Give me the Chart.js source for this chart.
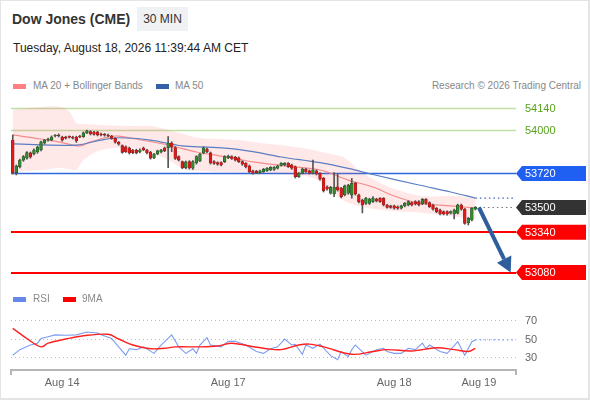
<!DOCTYPE html>
<html><head><meta charset="utf-8">
<script src="https://cdn.jsdelivr.net/npm/chart.js@4.4.1/dist/chart.umd.min.js"></script>
<style>
html,body{margin:0;padding:0;background:#fff;}
body{width:590px;height:400px;position:relative;overflow:hidden;font-family:"Liberation Sans",Arial,sans-serif;}
#frame{position:absolute;left:0;top:0;width:587px;height:397px;border:1px solid #e4e4e4;border-right-width:2px;border-bottom-width:2px;}
#title{position:absolute;left:12px;top:11px;font-size:14px;font-weight:bold;color:#333;}
#tf{position:absolute;left:137px;top:7px;width:51px;height:24px;line-height:24px;text-align:center;background:#f0f1f3;font-size:12px;color:#333;}
#date{position:absolute;left:13px;top:41px;font-size:12px;color:#222;}
.leg{position:absolute;font-size:10px;color:#888;line-height:12px;}
.sw{position:absolute;width:13px;height:5px;}
#cv{position:absolute;left:0;top:95px;}
</style></head>
<body>
<div id="frame"></div>
<div id="title">Dow Jones (CME)</div>
<div id="tf">30 MIN</div>
<div id="date">Tuesday, August 18, 2026 11:39:44 AM CET</div>
<div class="sw" style="left:13px;top:84px;background:#ff8080"></div>
<div class="leg" style="left:33px;top:80px">MA 20 + Bollinger Bands</div>
<div class="sw" style="left:156px;top:84px;background:#3460a8"></div>
<div class="leg" style="left:175px;top:80px">MA 50</div>
<div class="leg" style="right:9px;top:80px">Research © 2026 Trading Central</div>
<canvas id="cv" width="590" height="300"></canvas>
<div class="sw" style="left:13px;top:297px;background:#6688e8"></div>
<div class="leg" style="left:33px;top:293px">RSI</div>
<div class="sw" style="left:63px;top:297px;background:#ff0000"></div>
<div class="leg" style="left:82px;top:293px">9MA</div>
<script>
// ---- data ----
const slotCount = 143;
const tickIdx = [14, 61, 108, 132];
const tickText = ['Aug 14', 'Aug 17', 'Aug 18', 'Aug 19'];

const openP = [53935,53725,53763,53806,53819,53852,53845,53858,53871,53916,53935,53935,53961,53968,53955,53955,53957,53955,53955,53961,
53957,53981,53989,53987,53987,53974,53972,53968,53961,53946,53921,53899,53892,53884,53871,53871,53858,53884,53871,53858,
53821,53845,53858,53884,53886,53916,53886,53828,53796,53757,53796,53753,53787,53800,53852,53877,53852,53796,53789,53789,
53796,53821,53828,53824,53821,53796,53785,53768,53737,53735,53725,53731,53737,53742,53746,53753,53772,53774,53785,53774,
53763,53699,53721,53746,53737,53721,53737,53721,53688,53634,53592,53587,53634,53624,53581,53592,53581,53656,53581,53548,
53527,53527,53538,53555,53559,53559,53516,53510,53510,53505,53495,53510,53516,53531,53538,53538,53523,53553,53531,53516,
53495,53484,53473,53473,53463,53458,53463,53516,53489,53402,53420,53489];
const closeP = [53723,53768,53806,53828,53854,53826,53871,53890,53923,53935,53942,53955,53963,53961,53935,53948,53953,53948,53931,53955,
53981,53994,53974,53972,53968,53968,53966,53961,53946,53921,53908,53856,53860,53852,53854,53852,53871,53871,53852,53819,
53845,53865,53871,53865,53916,53890,53817,53806,53757,53794,53755,53796,53828,53845,53884,53860,53787,53785,53779,53774,
53828,53832,53817,53806,53796,53779,53763,53731,53721,53725,53737,53746,53753,53759,53759,53768,53785,53785,53763,53753,
53699,53721,53748,53731,53721,53742,53716,53682,53608,53618,53630,53630,53613,53570,53639,53645,53656,53587,53538,53516,
53559,53555,53559,53542,53538,53516,53501,53501,53495,53495,53510,53527,53538,53516,53523,53516,53553,53527,53505,53489,
53473,53458,53458,53458,53473,53484,53516,53489,53398,53430,53495,53501];
const highP = [53968,53774,53812,53835,53860,53858,53878,53896,53928,53940,53948,53962,53970,53975,53960,53960,53962,53960,53960,53966,
53987,54000,53995,53992,53992,53980,53978,53974,53966,53950,53926,53904,53898,53890,53876,53876,53878,53890,53876,53862,
53850,53870,53876,53890,53957,53924,53892,53834,53800,53800,53802,53802,53834,53850,53892,53884,53858,53802,53795,53795,
53834,53838,53834,53830,53826,53802,53790,53774,53742,53740,53742,53752,53758,53764,53764,53774,53790,53790,53790,53780,
53768,53726,53754,53752,53742,53806,53742,53726,53694,53640,53636,53725,53716,53630,53645,53650,53688,53662,53586,53554,
53565,53560,53570,53560,53564,53564,53520,53515,53515,53510,53515,53532,53544,53536,53544,53544,53558,53558,53536,53522,
53500,53490,53478,53478,53478,53490,53522,53522,53494,53436,53500,53506];
const lowP = [53716,53710,53755,53798,53812,53818,53840,53850,53865,53910,53928,53930,53955,53955,53928,53942,53948,53942,53920,53950,
53952,53976,53968,53966,53962,53962,53960,53955,53940,53915,53902,53850,53855,53845,53848,53846,53852,53866,53846,53812,
53815,53840,53852,53860,53757,53860,53810,53800,53750,53750,53748,53746,53780,53795,53846,53854,53780,53778,53772,53768,
53790,53815,53810,53800,53790,53772,53756,53724,53715,53718,53720,53726,53732,53737,53740,53748,53766,53768,53758,53746,
53690,53694,53716,53726,53716,53716,53710,53676,53600,53612,53586,53570,53606,53562,53575,53586,53560,53580,53530,53465,
53520,53520,53532,53536,53532,53510,53495,53495,53490,53488,53490,53504,53510,53510,53516,53510,53518,53520,53500,53482,
53466,53452,53452,53450,53458,53426,53458,53482,53392,53387,53414,53484];

const ma20Idx = [0,8,13,19,22,27,30,34,44,52,57,63,68,76,87,95,102,108,115,124,131];
const ma20Val = [53968,53942,53923,53897,53923,53955,53961,53945,53903,53858,53839,53816,53794,53771,53742,53677,53632,53574,53529,53510,53497];
const ma50Idx = [0,18,25,30,39,48,55,61,68,76,87,95,102,115,124,131];
const ma50Val = [53910,53903,53935,53950,53935,53897,53890,53882,53860,53826,53789,53752,53713,53645,53600,53561];
const bandIdx = [0,8,13,16,18,20,25,33,39,44,49,53,58,64,70,78,85,90,94,98,104,109,116,125,131];
const upperVal = [54130,54148,54150,54120,54045,54038,54032,54026,54026,54000,53970,53948,53942,53935,53916,53897,53871,53845,53819,53742,53658,53613,53574,53574,53561];
const lowerVal = [53729,53742,53755,53748,53742,53806,53871,53884,53858,53806,53742,53735,53729,53725,53722,53714,53690,53613,53540,53510,53485,53475,53465,53440,53425];

const rsiIdx = [0,2,5,7,8,10,12,15,18,21,24,25,28,30,32,33,35,37,40,42,45,47,49,51,52,53,55,56,59,61,63,66,69,71,73,75,77,79,80,82,83,85,87,90,92,93,95,96,97,100,103,105,106,108,110,112,114,116,117,118,121,123,124,126,128,130,131];
const rsiVal = [33,39,44,46,51,53,55,54.5,55,58,57,55,51,42,33,40,39,42,35,44,55,42,35,40,35,44,52,44,42,48,48,44,37,35,40,42,50.5,44,44.8,34,44,40.5,45,32.5,28,37,31.5,39,44,33,39,40.5,37,35,35,40.5,39,46,40,44,37,35,39,47.6,33,47.6,49.5];
const ma9Idx = [0,4,8,10,15,20,27,30,34,39,43,46,53,58,62,67,72,76,81,84,88,96,102,106,113,120,125,129,131];
const ma9Val = [62,51,42,46,50.5,54,55.6,50.5,44,40,40.5,42,42,43,46,43,40,39,44,45,42,34,37,39,37.6,41,39,37,40.5];
const rsiTicks = [30, 50, 70];

const resistLevels = [54140, 54000];
const pivotLevels = [53720];
const lastPrice = 53500;
const supportLevels = [53340, 53080];
const ma50Last = 53561;
const rsiLast = 49.5;
const extFrom = 131, extTo = 142;
const arrowFrom = [132, 53500];
const arrowTo = [141, 53080];

// ---- build ----
const slots = Array.from({length: slotCount}, (_, i) => i);
const pts = (idx, vals) => idx.map((k, j) => ({x: k, y: vals[j]}));
const up = closeP.map((c, i) => c >= openP[i]);
const FONT = '"Liberation Sans", Arial, sans-serif';
Chart.defaults.font.family = FONT;

const overlay = {
  id: 'overlay',
  beforeDatasetsDraw(chart) {
    const {ctx, chartArea: a} = chart; const y = chart.scales.price;
    ctx.save();
    const line = (p, color, w) => {
      const py = Math.round(y.getPixelForValue(p)) + (w % 2 ? 0.5 : 0);
      ctx.strokeStyle = color; ctx.lineWidth = w;
      ctx.beginPath(); ctx.moveTo(a.left, py); ctx.lineTo(a.right, py); ctx.stroke();
    };
    resistLevels.forEach(p => line(p, '#c2e0a6', 1.5));
    pivotLevels.forEach(p => line(p, '#2f68dc', 1.5));
    supportLevels.forEach(p => line(p, '#ff0000', 2));
    ctx.restore();
  },
  afterDraw(chart) {
    const {ctx, chartArea: a} = chart; const y = chart.scales.price, x = chart.scales.x;
    ctx.save();
    ctx.font = '11px ' + FONT; ctx.textBaseline = 'middle'; ctx.textAlign = 'left';
    const x0 = a.right;
    const tag = (p, bg) => {
      const py = y.getPixelForValue(p), h = 15;
      ctx.fillStyle = bg; ctx.beginPath();
      ctx.moveTo(x0, py); ctx.lineTo(x0 + 6, py - h / 2); ctx.lineTo(x0 + 70, py - h / 2);
      ctx.lineTo(x0 + 70, py + h / 2); ctx.lineTo(x0 + 6, py + h / 2); ctx.closePath(); ctx.fill();
      ctx.fillStyle = '#fff'; ctx.fillText(String(p), x0 + 9, py + 0.5);
    };
    resistLevels.forEach(p => { ctx.fillStyle = '#58a31e'; ctx.fillText(String(p), x0 + 9, y.getPixelForValue(p) + 0.5); });
    pivotLevels.forEach(p => tag(p, '#1f60f2'));
    tag(lastPrice, '#333333');
    supportLevels.forEach(p => tag(p, '#ff0000'));
    // arrow
    const x1 = x.getPixelForValue(arrowFrom[0]), y1 = y.getPixelForValue(arrowFrom[1]);
    const x2 = x.getPixelForValue(arrowTo[0]), y2 = y.getPixelForValue(arrowTo[1]);
    const ang = Math.atan2(y2 - y1, x2 - x1), c = Math.cos(ang), s = Math.sin(ang);
    const hl = 15, hw = 8;
    const bx = x2 - hl * c, by = y2 - hl * s;
    ctx.strokeStyle = '#2e5e9c'; ctx.fillStyle = '#2e5e9c'; ctx.lineWidth = 4; ctx.lineCap = 'butt';
    ctx.beginPath(); ctx.moveTo(x1, y1); ctx.lineTo(bx, by); ctx.stroke();
    ctx.beginPath(); ctx.moveTo(x2, y2); ctx.lineTo(bx - hw * s, by + hw * c); ctx.lineTo(bx + hw * s, by - hw * c); ctx.closePath(); ctx.fill();
    // axis end ticks
    ctx.strokeStyle = '#b5b5b5'; ctx.lineWidth = 2;
    ctx.beginPath();
    ctx.moveTo(a.left, a.bottom); ctx.lineTo(a.left, a.bottom + 5);
    ctx.moveTo(a.right, a.bottom); ctx.lineTo(a.right, a.bottom + 5);
    ctx.stroke();
    ctx.restore();
  }
};

new Chart(document.getElementById('cv'), {
  type: 'bar',
  data: {
    labels: slots,
    datasets: [
      {type: 'line', label: 'upper', data: pts(bandIdx, upperVal), yAxisID: 'price', borderWidth: 0, pointRadius: 0, fill: false, tension: 0.35, order: 20},
      {type: 'line', label: 'lower', data: pts(bandIdx, lowerVal), yAxisID: 'price', borderWidth: 0, pointRadius: 0, fill: '-1', backgroundColor: 'rgba(255,90,90,0.14)', tension: 0.35, order: 19},
      {type: 'line', label: 'MA 20', data: pts(ma20Idx, ma20Val), yAxisID: 'price', borderColor: '#f58c8c', borderWidth: 1.2, pointRadius: 0, tension: 0.35, order: 10},
      {type: 'line', label: 'MA 50', data: pts(ma50Idx, ma50Val), yAxisID: 'price', borderColor: '#5a7ec2', borderWidth: 1.2, pointRadius: 0, tension: 0.35, order: 9},
      {type: 'line', label: 'MA 50 ext', data: pts([extFrom, extTo], [ma50Last, ma50Last]), yAxisID: 'price', borderColor: '#3d63b8', borderWidth: 1.2, borderDash: [1.5, 3], pointRadius: 0, order: 8},
      {type: 'line', label: 'price ext', data: pts([extFrom + 1, extTo], [lastPrice, lastPrice]), yAxisID: 'price', borderColor: '#777', borderWidth: 1.2, borderDash: [1.5, 3], pointRadius: 0, order: 8},
      {label: 'wick', data: lowP.map((l, i) => [l, highP[i]]), yAxisID: 'price', backgroundColor: '#555', barThickness: 1, grouped: false, order: 3},
      {label: 'body', data: openP.map((o, i) => [o, closeP[i]]), yAxisID: 'price', backgroundColor: up.map(u => u ? '#2e8b2e' : '#e01818'),
        borderColor: up.map(u => u ? '#2b4a2b' : '#8a2020'), borderWidth: 0.6, borderSkipped: false, barThickness: 2.8, minBarLength: 1, grouped: false, order: 2},
      {type: 'line', label: 'RSI', data: pts(rsiIdx, rsiVal), yAxisID: 'rsi', borderColor: '#7d9df0', borderWidth: 1.1, pointRadius: 0, tension: 0, order: 5},
      {type: 'line', label: '9MA', data: pts(ma9Idx, ma9Val), yAxisID: 'rsi', borderColor: '#ff2020', borderWidth: 1.4, pointRadius: 0, tension: 0.35, order: 4},
      {type: 'line', label: 'RSI ext', data: pts([extFrom, extTo], [rsiLast, rsiLast]), yAxisID: 'rsi', borderColor: '#7d9df0', borderWidth: 1.2, borderDash: [1.5, 3], pointRadius: 0, order: 5}
    ]
  },
  options: {
    responsive: false, animation: false,
    layout: {padding: {left: 11, right: 0, top: 0, bottom: 0}},
    plugins: {legend: {display: false}, tooltip: {enabled: false}},
    scales: {
      x: {type: 'category', offset: true,
        grid: {display: false, drawTicks: false},
        border: {display: true, color: '#b5b5b5', width: 2},
        ticks: {autoSkip: false, maxRotation: 0, padding: 6, color: '#666', font: {size: 11},
          callback: (v, i) => { const k = tickIdx.indexOf(i); return k >= 0 ? tickText[k] : ''; }},
        afterFit: s => { s.height = 25; }},
      price: {type: 'linear', axis: 'y', display: false, min: 52451.6, max: 54225.8},
      rsi: {type: 'linear', axis: 'y', position: 'right', min: 17.0, max: 314.3,
        afterBuildTicks: ax => { ax.ticks = rsiTicks.map(v => ({value: v})); },
        afterFit: s => { s.width = 74; s.paddingTop = 0; s.paddingBottom = 0; },
        grid: {color: '#bdbdbd', drawTicks: false, lineWidth: 1},
        border: {display: false, dash: [1, 3]},
        ticks: {padding: 9, color: '#666', font: {size: 11}}}
    }
  },
  plugins: [overlay]
});
</script>
</body></html>
